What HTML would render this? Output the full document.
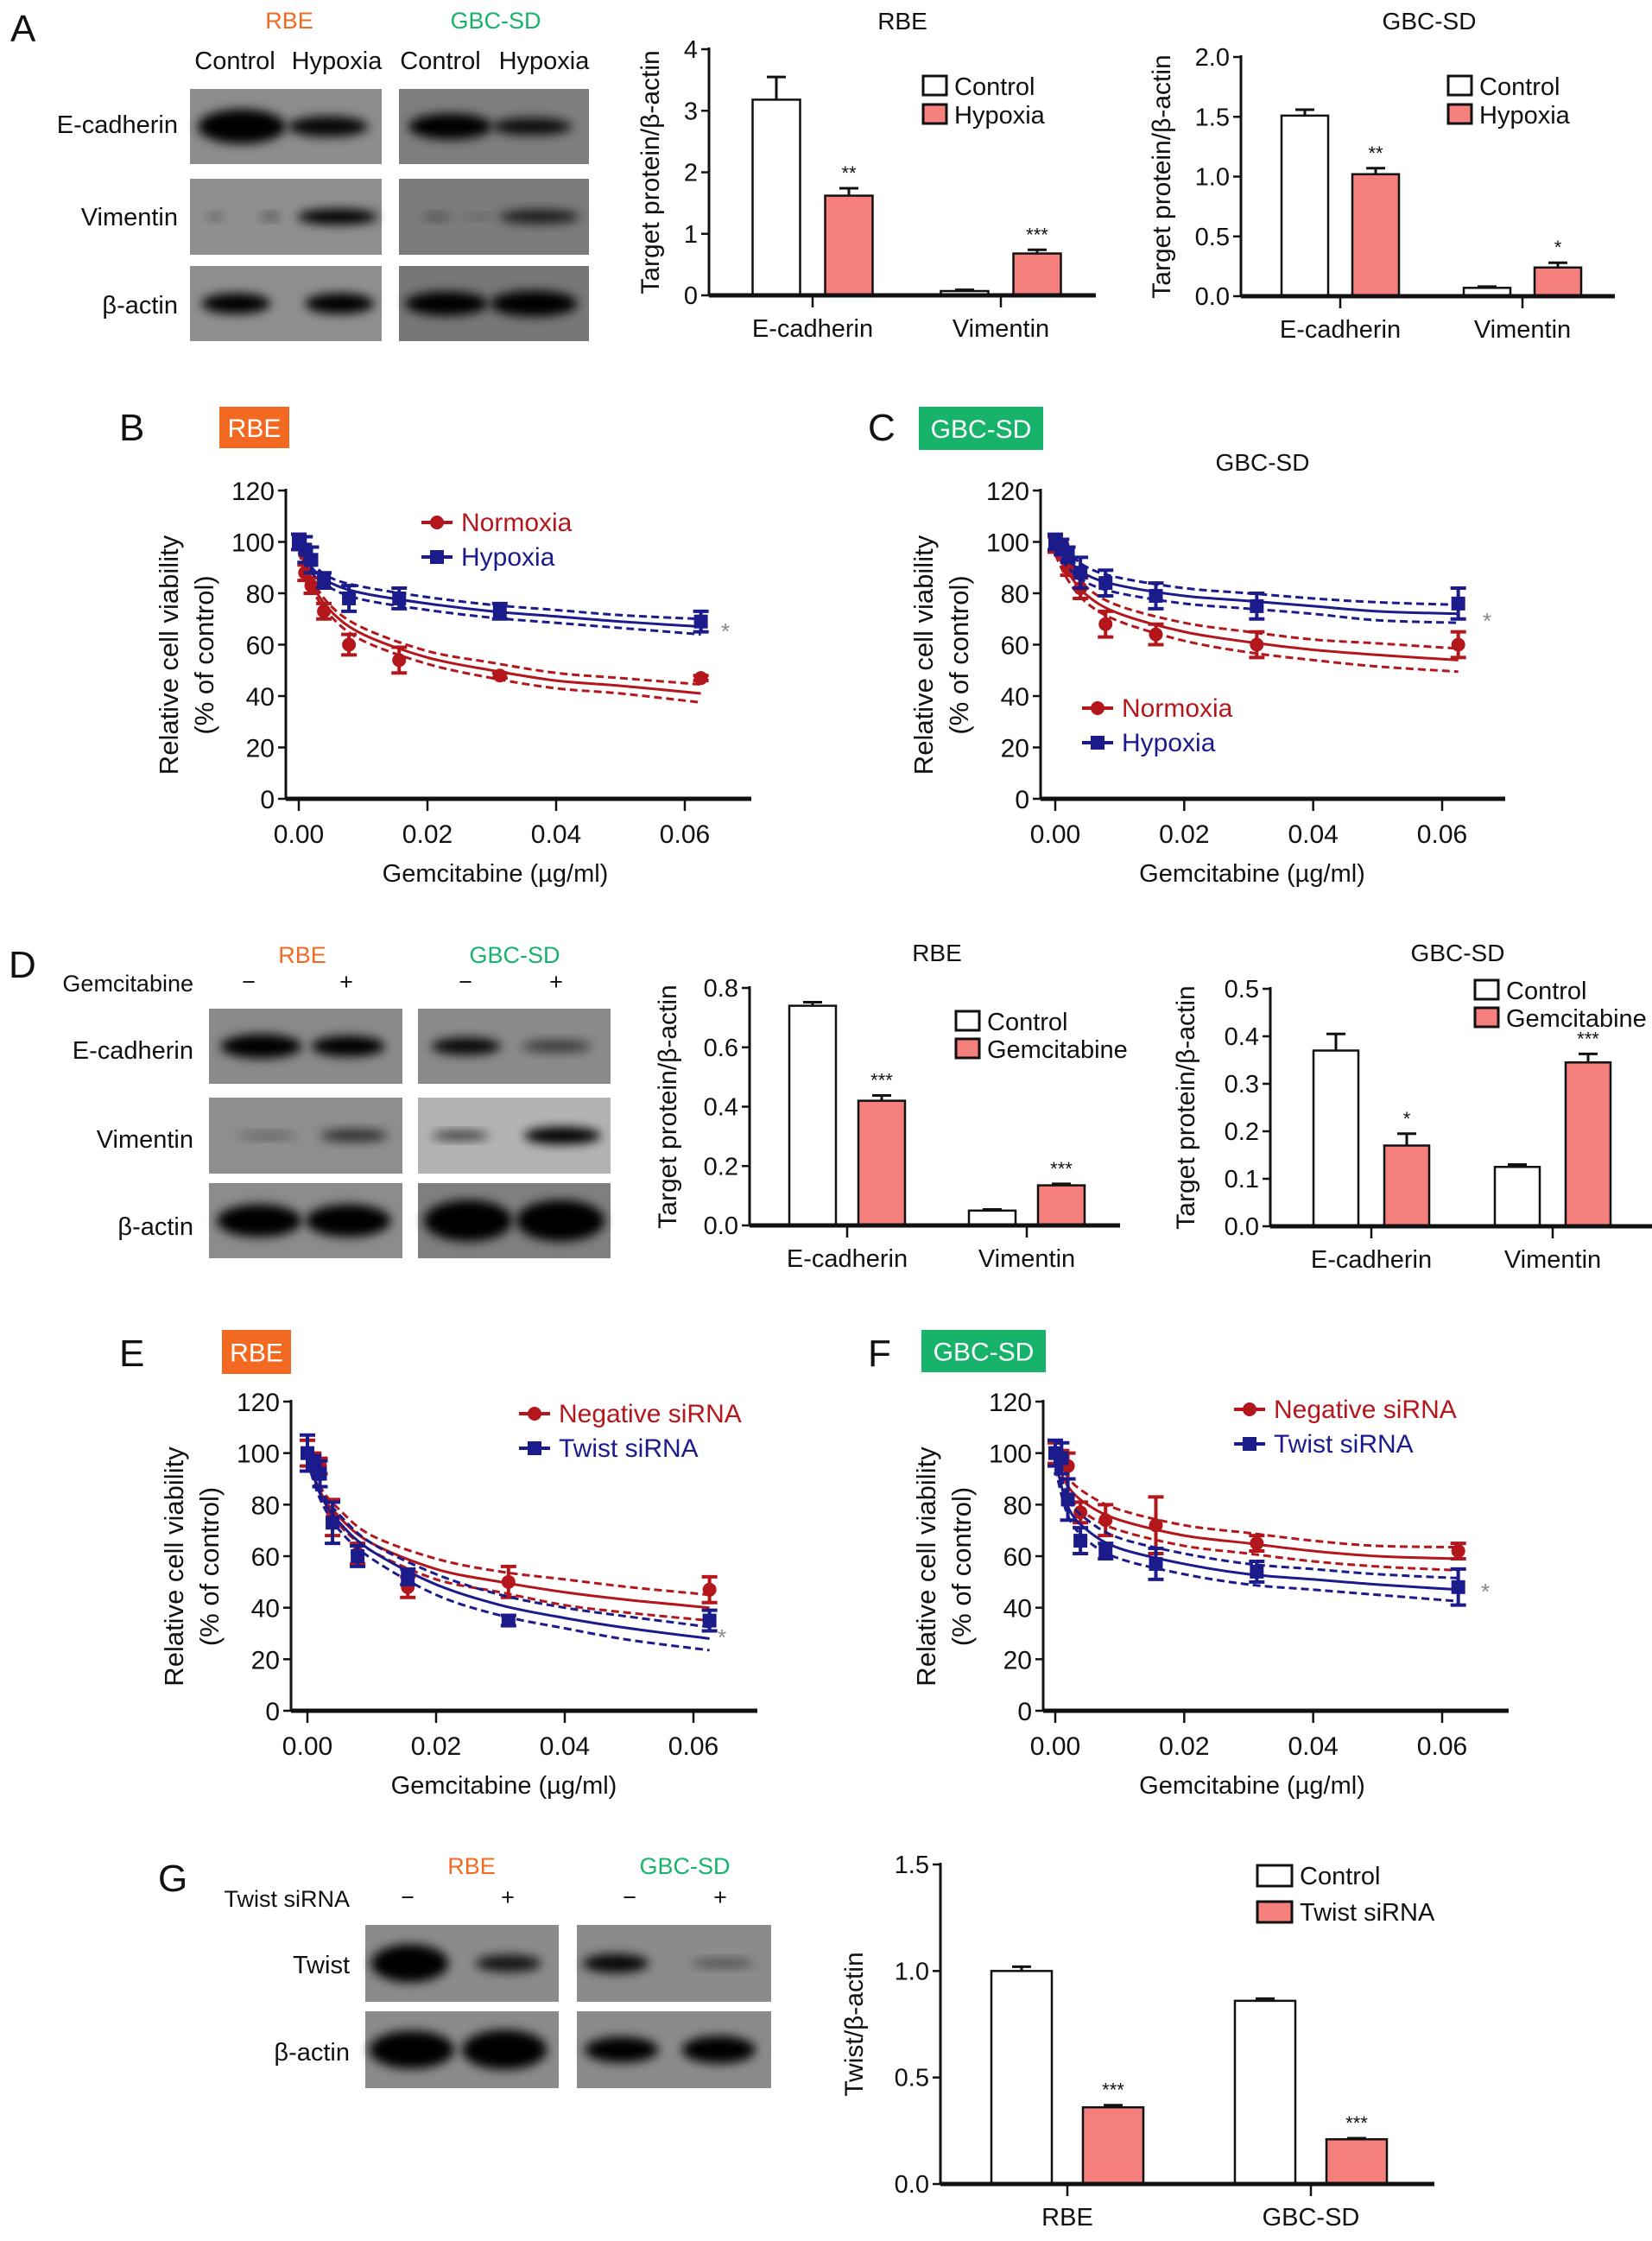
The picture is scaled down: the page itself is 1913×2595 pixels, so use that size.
<!DOCTYPE html>
<html><head><meta charset="utf-8"><style>
html,body{margin:0;padding:0;background:#fff}
svg{display:block}
text{font-family:"Liberation Sans",Arial,sans-serif}
</style></head><body>
<svg id="fig" width="1913" height="2595" viewBox="0 0 1913 2595" xmlns="http://www.w3.org/2000/svg">
<defs>
<filter id="blur" x="-30%" y="-60%" width="160%" height="220%"><feGaussianBlur stdDeviation="6"/></filter>
</defs>
</svg>
<script>
// ---------- data ----------
const barCats = ['E-cadherin','Vimentin'];
const aRbeCtrl = [3.18, 0.07], aRbeCtrlErr = [0.37, 0.02];
const aRbeHyp = [1.62, 0.68], aRbeHypErr = [0.12, 0.06];
const aRbeTicks = ['0','1','2','3','4'];
const aGbcCtrl = [1.51, 0.07], aGbcCtrlErr = [0.05, 0.01];
const aGbcHyp = [1.02, 0.24], aGbcHypErr = [0.05, 0.04];
const aGbcTicks = ['0.0','0.5','1.0','1.5','2.0'];
const dRbeCtrl = [0.74, 0.05], dRbeCtrlErr = [0.012, 0.004];
const dRbeGem = [0.42, 0.135], dRbeGemErr = [0.018, 0.005];
const dRbeTicks = ['0.0','0.2','0.4','0.6','0.8'];
const dGbcCtrl = [0.37, 0.125], dGbcCtrlErr = [0.035, 0.005];
const dGbcGem = [0.17, 0.345], dGbcGemErr = [0.025, 0.018];
const dGbcTicks = ['0.0','0.1','0.2','0.3','0.4','0.5'];
const gCats = ['RBE','GBC-SD'];
const gCtrl = [1.0, 0.86], gCtrlErr = [0.02, 0.01];
const gSi = [0.36, 0.21], gSiErr = [0.01, 0.005];
const gTicks = ['0.0','0.5','1.0','1.5'];

const doseX = [0, 0.00098, 0.00195, 0.0039, 0.0078, 0.0156, 0.03125, 0.0625];
const fitX = [0, 0.002, 0.005, 0.01, 0.02, 0.03, 0.04, 0.05, 0.0625];
const xTicks = ['0.00','0.02','0.04','0.06'];
const yTicks = ['0','20','40','60','80','100','120'];

const bNorm = [100, 88, 83, 73, 60, 54, 48, 47], bNormErr = [3, 3, 3, 3, 4, 5, 1, 1];
const bHyp = [100, 97, 93, 85, 78, 78, 73, 69], bHypErr = [3, 5, 5, 3, 5, 4, 3, 4];
const bNormFit = [98, 84, 73, 64, 55, 50, 46, 44, 41], bNormBand = [2, 2, 2, 2.5, 2.5, 3, 3, 3, 3.5];
const bHypFit = [99, 90, 84, 80, 76, 73, 71, 69, 67], bHypBand = [2, 2, 2, 2.5, 2.5, 2.5, 2.5, 2.5, 3];

const cNorm = [99, 97, 90, 82, 68, 64, 60, 60], cNormErr = [3, 2, 3, 4, 5, 4, 5, 5];
const cHyp = [100, 98, 95, 88, 84, 79, 75, 76], cHypErr = [3, 3, 3, 6, 5, 5, 5, 6];
const cNormFit = [97, 88, 79, 72, 65, 61, 58, 56, 54], cNormBand = [2, 3, 3, 3, 3.5, 4, 4, 4.5, 4.5];
const cHypFit = [99, 93, 87, 83, 79, 77, 75, 73, 72], cHypBand = [2, 3, 3, 3, 3, 3, 3, 3.5, 3.5];

const eNeg = [100, 97, 95, 75, 61, 48, 50, 47], eNegErr = [5, 3, 3, 7, 4, 4, 6, 5];
const eTw = [100, 96, 92, 73, 60, 52, 35, 35], eTwErr = [7, 3, 5, 8, 4, 3, 2, 4];
const eNegFit = [99, 85, 75, 65, 55, 50, 46, 43, 40], eNegBand = [2, 2, 3, 3, 4, 4, 5, 5, 5];
const eTwFit = [99, 84, 73, 62, 49, 41, 36, 32, 28], eTwBand = [2, 2, 3, 3, 4, 4, 4, 4.5, 4.5];

const fNeg = [100, 98, 95, 77, 74, 72, 65, 62], fNegErr = [4, 3, 5, 4, 6, 11, 3, 3];
const fTw = [100, 98, 82, 66, 62, 57, 54, 48], fTwErr = [5, 6, 8, 5, 3, 6, 4, 7];
const fNegFit = [98, 87, 80, 74, 68, 65, 62, 60, 59], fNegBand = [3, 3.5, 4, 4, 4, 4, 4, 4, 4.5];
const fTwFit = [97, 79, 70, 63, 57, 53, 51, 49, 47], fTwBand = [3, 3.5, 4, 4, 4, 4, 4, 4, 4.5];

// ---------- helpers ----------
const NS = 'http://www.w3.org/2000/svg';
const svg = document.getElementById('fig');
const RED = '#b3171c', BLUE = '#1b1b8c', PINK = '#f47f7c', ORANGE = '#f26a21', GREEN = '#17b36b';
function el(tag, attrs, parent, txt) {
  const e = document.createElementNS(NS, tag);
  for (const k in attrs) e.setAttribute(k, attrs[k]);
  if (txt !== undefined) e.textContent = txt;
  (parent || svg).appendChild(e);
  return e;
}
function txt(x, y, s, size, anchor, fill, parent, name) {
  const t = el('text', {x: x, y: y, 'font-size': size, 'text-anchor': anchor || 'start', fill: fill || '#111'}, parent, s);
  
  
  return t;
}
function group(name) {
  const g = el('g', {});
  
  
  return g;
}

// ---------- western blots ----------
function blot(name, x, y, w, h, fill, bands, parent) {
  const g = el('g', {}, parent);
  
  
  el('rect', {x: x, y: y, width: w, height: h, fill: fill}, g);
  bands.forEach(b => {
    const e = el('ellipse', {cx: x + b[0] * w, cy: y + h * (b[4] || 0.5), rx: b[1] * w / 2, ry: b[2], fill: '#050505', opacity: b[3], filter: 'url(#blur)'}, g);
    
    
  });
}

// ---------- bar chart ----------
function barChart(o) {
  const g = group(o.name);
  const ys = v => o.y0 - (v / o.vmax) * (o.y0 - o.yTop);
  o.cats.forEach((c, i) => {
    const cx = o.catX[i];
    [[o.s1, o.e1, '#fff', -1], [o.s2, o.e2, PINK, 1]].forEach(([vals, errs, fill, side]) => {
      const bx = cx + side * o.off - o.bw / 2;
      const top = ys(vals[i]);
      const et = ys(vals[i] + errs[i]);
      const eb = el('line', {x1: bx + o.bw / 2, x2: bx + o.bw / 2, y1: top, y2: et, stroke: '#111', 'stroke-width': 3}, g);
      
      
      el('line', {x1: bx + o.bw / 2 - 11, x2: bx + o.bw / 2 + 11, y1: et, y2: et, stroke: '#111', 'stroke-width': 3}, g);
      const r = el('rect', {x: bx, y: top, width: o.bw, height: o.y0 - top, fill: fill, stroke: '#111', 'stroke-width': 2.5}, g);
      
      
      if (side > 0 && o.stars[i]) txt(bx + o.bw / 2, et - 10, o.stars[i], 22, 'middle', '#111', g, 'significance-marker');
    });
    el('line', {x1: cx, x2: cx, y1: o.y0, y2: o.y0 + 14, stroke: '#111', 'stroke-width': 2.5}, g);
    txt(cx, o.y0 + 48, c, 29, 'middle', '#111', g, 'x-tick-label');
  });
  const ya = el('line', {x1: o.ax, x2: o.ax, y1: o.yTop - 2, y2: o.y0, stroke: '#111', 'stroke-width': 3}, g);
   
  const xa = el('line', {x1: o.ax, x2: o.xEnd, y1: o.y0, y2: o.y0, stroke: '#111', 'stroke-width': 5}, g);
   
  o.ticks.forEach((t, i) => {
    const yy = ys(i * o.vmax / (o.ticks.length - 1));
    el('line', {x1: o.ax - 9, x2: o.ax, y1: yy, y2: yy, stroke: '#111', 'stroke-width': 2.5}, g);
    txt(o.ax - 13, yy + 10, t, 29, 'end', '#111', g, 'y-tick-label');
  });
  const yl = txt(0, 0, o.ylabel, 30, 'middle', '#111', g, 'y-axis-title');
  yl.setAttribute('transform', `translate(${o.ax + o.ylOff},${(o.y0 + o.yTop) / 2}) rotate(-90)`);
  if (o.title) txt(o.titleX, o.titleY, o.title, 28, 'middle', '#111', g, 'chart-title');
  [[o.leg1, '#fff'], [o.leg2, PINK]].forEach(([lab, fill], i) => {
    const ly = o.legY + i * o.legDy;
    const r = el('rect', {x: o.legX, y: ly - 12, width: o.legW || 27, height: o.legH || 22, fill: fill, stroke: '#111', 'stroke-width': 3}, g);
    
    
    txt(o.legX + (o.legW || 27) + 9, ly + 10, lab, 29, 'start', '#111', g, 'legend-entry');
  });
}

// ---------- dose-response chart ----------
function catmull(pts) {
  let d = `M${pts[0][0]},${pts[0][1]}`;
  for (let i = 0; i < pts.length - 1; i++) {
    const p0 = pts[Math.max(0, i - 1)], p1 = pts[i], p2 = pts[i + 1], p3 = pts[Math.min(pts.length - 1, i + 2)];
    const c1 = [p1[0] + (p2[0] - p0[0]) / 6, p1[1] + (p2[1] - p0[1]) / 6];
    const c2 = [p2[0] - (p3[0] - p1[0]) / 6, p2[1] - (p3[1] - p1[1]) / 6];
    d += ` C${c1[0]},${c1[1]} ${c2[0]},${c2[1]} ${p2[0]},${p2[1]}`;
  }
  return d;
}
function curveChart(o) {
  const g = group(o.name);
  const xs = v => o.x0 + v / 0.06 * (o.x06 - o.x0);
  const ys = v => o.y0 - v / 120 * (o.y0 - o.y120);
  const ya = el('line', {x1: o.ax, x2: o.ax, y1: o.y120 - 2, y2: o.y0, stroke: '#111', 'stroke-width': 3}, g);
   
  const xa = el('line', {x1: o.ax, x2: o.xEnd, y1: o.y0, y2: o.y0, stroke: '#111', 'stroke-width': 5}, g);
   
  yTicks.forEach((t, i) => {
    const yy = ys(i * 20);
    el('line', {x1: o.ax - 9, x2: o.ax, y1: yy, y2: yy, stroke: '#111', 'stroke-width': 2.5}, g);
    txt(o.ax - 13, yy + 11, t, 30, 'end', '#111', g, 'y-tick-label');
  });
  xTicks.forEach((t, i) => {
    const xx = xs(i * 0.02);
    el('line', {x1: xx, x2: xx, y1: o.y0, y2: o.y0 + 14, stroke: '#111', 'stroke-width': 2.5}, g);
    txt(xx, o.y0 + 51, t, 30, 'middle', '#111', g, 'x-tick-label');
  });
  txt((o.x0 + o.x06) / 2 + 4, o.y0 + 96, 'Gemcitabine (µg/ml)', 29, 'middle', '#111', g, 'x-axis-title');
  const yc = (o.y0 + o.y120) / 2 + 12;
  const l1 = txt(0, 0, 'Relative cell viability', 31, 'middle', '#111', g, 'y-axis-title');
  l1.setAttribute('transform', `translate(${o.ax - 125},${yc}) rotate(-90)`);
  const l2 = txt(0, 0, '(% of control)', 31, 'middle', '#111', g, 'y-axis-title');
  l2.setAttribute('transform', `translate(${o.ax - 84},${yc}) rotate(-90)`);
  if (o.title) txt(o.title[0], o.title[1], o.title[2], 28, 'middle', '#111', g, 'chart-title');
  o.series.forEach(s => {
    const sg = el('g', {}, g);
    
    
    const mid = fitX.map((x, i) => [xs(x), ys(s.fit[i])]);
    const up = fitX.map((x, i) => [xs(x), ys(s.fit[i] + s.band[i])]);
    const lo = fitX.map((x, i) => [xs(x), ys(s.fit[i] - s.band[i])]);
    [up, lo].forEach(p => {
      const b = el('path', {d: catmull(p), fill: 'none', stroke: s.color, 'stroke-width': 3, 'stroke-dasharray': '9,5'}, sg);
      
      
    });
    const m = el('path', {d: catmull(mid), fill: 'none', stroke: s.color, 'stroke-width': 3}, sg);
    
    
    doseX.forEach((x, i) => {
      const px = xs(x), py = ys(s.data[i]);
      const t = ys(s.data[i] + s.err[i]), b = ys(s.data[i] - s.err[i]);
      el('line', {x1: px, x2: px, y1: t, y2: b, stroke: s.color, 'stroke-width': 4}, sg);
      el('line', {x1: px - 9, x2: px + 9, y1: t, y2: t, stroke: s.color, 'stroke-width': 4}, sg);
      el('line', {x1: px - 9, x2: px + 9, y1: b, y2: b, stroke: s.color, 'stroke-width': 4}, sg);
      let mk;
      if (s.marker === 'circle') mk = el('circle', {cx: px, cy: py, r: 8, fill: s.color}, sg);
      else mk = el('rect', {x: px - 8, y: py - 8, width: 16, height: 16, fill: s.color}, sg);
      
      
    });
  });
  o.series.forEach((s, i) => {
    const ly = o.legY + i * o.legDy;
    const lg = el('g', {}, g);
    
    
    el('line', {x1: o.legX - 18, x2: o.legX + 18, y1: ly, y2: ly, stroke: s.color, 'stroke-width': 4}, lg);
    if (s.marker === 'circle') el('circle', {cx: o.legX, cy: ly, r: 8, fill: s.color}, lg);
    else el('rect', {x: o.legX - 8, y: ly - 8, width: 16, height: 16, fill: s.color}, lg);
    txt(o.legX + 28, ly + 10, s.label, 30, 'start', s.color, lg, 'legend-label');
  });
  txt(o.star[0], o.star[1], '*', 26, 'middle', '#888', g, 'significance-marker');
}

function letter(s, x, y) { txt(x, y, s, 44, 'start', '#111', null, 'panel-letter-' + s.toLowerCase()); }
function badge(s, x, y, w, h, color) {
  const g = group('cell-line-badge-' + s.toLowerCase());
  el('rect', {x: x, y: y, width: w, height: h, fill: color}, g);
  txt(x + w / 2, y + h / 2 + 11, s, 30, 'middle', '#fff', g, 'badge-text');
}

// ===== Panel A =====
letter('A', 12, 48);
txt(335, 33, 'RBE', 27, 'middle', ORANGE, null, 'cell-line-label');
txt(574, 33, 'GBC-SD', 27, 'middle', GREEN, null, 'cell-line-label');
[['Control', 272], ['Hypoxia', 390], ['Control', 510], ['Hypoxia', 630]].forEach(a => txt(a[1], 80, a[0], 29, 'middle', '#111', null, 'lane-label'));
[['E-cadherin', 154], ['Vimentin', 261], ['β-actin', 363]].forEach(a => txt(206, a[1], a[0], 29, 'end', '#111', null, 'row-label'));
const gA = group('blot-panel-a');
blot('blot-rbe-ecadherin', 220, 103, 222, 87, '#8d8d8d', [[0.27, 0.46, 20, 1], [0.72, 0.42, 12, 0.95]], gA);
blot('blot-rbe-vimentin', 220, 207, 222, 88, '#8f8f8f', [[0.13, 0.08, 4, 0.4], [0.42, 0.1, 4, 0.5], [0.77, 0.42, 9, 1]], gA);
blot('blot-rbe-actin', 220, 308, 222, 87, '#8f8f8f', [[0.24, 0.36, 12, 1], [0.78, 0.36, 12, 1]], gA);
blot('blot-gbc-ecadherin', 462, 103, 220, 87, '#7e7e7e', [[0.27, 0.44, 15, 1], [0.7, 0.42, 10, 0.9]], gA);
blot('blot-gbc-vimentin', 462, 207, 220, 88, '#7b7b7b', [[0.2, 0.14, 4, 0.4], [0.42, 0.18, 3, 0.2], [0.74, 0.42, 8, 0.8]], gA);
blot('blot-gbc-actin', 462, 308, 220, 87, '#777', [[0.25, 0.44, 14, 1], [0.71, 0.46, 15, 1]], gA);

barChart({name: 'chart-a-rbe', cats: barCats, catX: [941, 1159], s1: aRbeCtrl, e1: aRbeCtrlErr, s2: aRbeHyp, e2: aRbeHypErr,
  stars: ['**', '***'], ax: 821, y0: 342, yTop: 57, vmax: 4, ticks: aRbeTicks, xEnd: 1269, off: 42, bw: 55,
  ylabel: 'Target protein/β-actin', ylOff: -58, title: 'RBE', titleX: 1045, titleY: 34,
  leg1: 'Control', leg2: 'Hypoxia', legX: 1069, legY: 100, legDy: 33});
barChart({name: 'chart-a-gbcsd', cats: barCats, catX: [1552, 1763], s1: aGbcCtrl, e1: aGbcCtrlErr, s2: aGbcHyp, e2: aGbcHypErr,
  stars: ['**', '*'], ax: 1437, y0: 343, yTop: 66, vmax: 2, ticks: aGbcTicks, xEnd: 1870, off: 41, bw: 54,
  ylabel: 'Target protein/β-actin', ylOff: -82, title: 'GBC-SD', titleX: 1655, titleY: 34,
  leg1: 'Control', leg2: 'Hypoxia', legX: 1677, legY: 100, legDy: 33});

// ===== Panels B, C =====
letter('B', 138, 510);
badge('RBE', 254, 471, 81, 48, ORANGE);
letter('C', 1005, 510);
badge('GBC-SD', 1064, 471, 144, 50, GREEN);
curveChart({name: 'chart-b-rbe', ax: 331, x0: 346, x06: 793, xEnd: 870, y0: 925, y120: 568,
  series: [{name: 'series-normoxia', label: 'Normoxia', color: RED, marker: 'circle', data: bNorm, err: bNormErr, fit: bNormFit, band: bNormBand},
           {name: 'series-hypoxia', label: 'Hypoxia', color: BLUE, marker: 'square', data: bHyp, err: bHypErr, fit: bHypFit, band: bHypBand}],
  legX: 506, legY: 605, legDy: 40, star: [840, 740]});
curveChart({name: 'chart-c-gbcsd', ax: 1205, x0: 1222, x06: 1670, xEnd: 1743, y0: 925, y120: 568,
  series: [{name: 'series-normoxia', label: 'Normoxia', color: RED, marker: 'circle', data: cNorm, err: cNormErr, fit: cNormFit, band: cNormBand},
           {name: 'series-hypoxia', label: 'Hypoxia', color: BLUE, marker: 'square', data: cHyp, err: cHypErr, fit: cHypFit, band: cHypBand}],
  legX: 1271, legY: 820, legDy: 40, star: [1722, 728], title: [1462, 545, 'GBC-SD']});

// ===== Panel D =====
letter('D', 10, 1132);
txt(350, 1115, 'RBE', 27, 'middle', ORANGE, null, 'cell-line-label');
txt(596, 1115, 'GBC-SD', 27, 'middle', GREEN, null, 'cell-line-label');
txt(224, 1148, 'Gemcitabine', 27, 'end', '#111', null, 'treatment-label');
[['−', 288], ['+', 401], ['−', 539], ['+', 644]].forEach(a => txt(a[1], 1146, a[0], 27, 'middle', '#111', null, 'lane-sign'));
[['E-cadherin', 1226], ['Vimentin', 1329], ['β-actin', 1430]].forEach(a => txt(224, a[1], a[0], 29, 'end', '#111', null, 'row-label'));
const gD = group('blot-panel-d');
blot('blot-rbe-ecadherin', 242, 1168, 224, 87, '#8a8a8a', [[0.27, 0.42, 14, 1], [0.72, 0.38, 12, 1]], gD);
blot('blot-rbe-vimentin', 242, 1271, 224, 88, '#8e8e8e', [[0.3, 0.3, 4, 0.35], [0.75, 0.35, 7, 0.7]], gD);
blot('blot-rbe-actin', 242, 1370, 224, 87, '#8c8c8c', [[0.26, 0.44, 19, 1], [0.72, 0.44, 19, 1]], gD);
blot('blot-gbc-ecadherin', 484, 1168, 223, 87, '#8a8a8a', [[0.25, 0.36, 10, 0.95], [0.72, 0.36, 7, 0.6]], gD);
blot('blot-gbc-vimentin', 484, 1271, 223, 88, '#b3b3b3', [[0.22, 0.3, 5, 0.75], [0.75, 0.4, 10, 1]], gD);
blot('blot-gbc-actin', 484, 1370, 223, 87, '#7f7f7f', [[0.26, 0.46, 24, 1], [0.74, 0.46, 24, 1]], gD);

barChart({name: 'chart-d-rbe', cats: barCats, catX: [981, 1189], s1: dRbeCtrl, e1: dRbeCtrlErr, s2: dRbeGem, e2: dRbeGemErr,
  stars: ['***', '***'], ax: 868, y0: 1419, yTop: 1144, vmax: 0.8, ticks: dRbeTicks, xEnd: 1297, off: 40, bw: 54,
  ylabel: 'Target protein/β-actin', ylOff: -85, title: 'RBE', titleX: 1085, titleY: 1113,
  leg1: 'Control', leg2: 'Gemcitabine', legX: 1107, legY: 1183, legDy: 32});
barChart({name: 'chart-d-gbcsd', cats: barCats, catX: [1588, 1798], s1: dGbcCtrl, e1: dGbcCtrlErr, s2: dGbcGem, e2: dGbcGemErr,
  stars: ['*', '***'], ax: 1471, y0: 1420, yTop: 1145, vmax: 0.5, ticks: dGbcTicks, xEnd: 1913, off: 41, bw: 52,
  ylabel: 'Target protein/β-actin', ylOff: -88, title: 'GBC-SD', titleX: 1688, titleY: 1113,
  leg1: 'Control', leg2: 'Gemcitabine', legX: 1708, legY: 1147, legDy: 32});

// ===== Panels E, F =====
letter('E', 138, 1582);
badge('RBE', 257, 1540, 80, 51, ORANGE);
letter('F', 1005, 1582);
badge('GBC-SD', 1067, 1540, 144, 49, GREEN);
curveChart({name: 'chart-e-rbe', ax: 337, x0: 356, x06: 803, xEnd: 877, y0: 1981, y120: 1623,
  series: [{name: 'series-negative-sirna', label: 'Negative siRNA', color: RED, marker: 'circle', data: eNeg, err: eNegErr, fit: eNegFit, band: eNegBand},
           {name: 'series-twist-sirna', label: 'Twist siRNA', color: BLUE, marker: 'square', data: eTw, err: eTwErr, fit: eTwFit, band: eTwBand}],
  legX: 619, legY: 1637, legDy: 40, star: [836, 1905]});
curveChart({name: 'chart-f-gbcsd', ax: 1208, x0: 1222, x06: 1670, xEnd: 1747, y0: 1981, y120: 1623,
  series: [{name: 'series-negative-sirna', label: 'Negative siRNA', color: RED, marker: 'circle', data: fNeg, err: fNegErr, fit: fNegFit, band: fNegBand},
           {name: 'series-twist-sirna', label: 'Twist siRNA', color: BLUE, marker: 'square', data: fTw, err: fTwErr, fit: fTwFit, band: fTwBand}],
  legX: 1447, legY: 1632, legDy: 40, star: [1720, 1852]});

// ===== Panel G =====
letter('G', 183, 2190);
txt(546, 2170, 'RBE', 27, 'middle', ORANGE, null, 'cell-line-label');
txt(793, 2170, 'GBC-SD', 27, 'middle', GREEN, null, 'cell-line-label');
txt(405, 2208, 'Twist siRNA', 27, 'end', '#111', null, 'treatment-label');
[['−', 472], ['+', 588], ['−', 729], ['+', 834]].forEach(a => txt(a[1], 2206, a[0], 27, 'middle', '#111', null, 'lane-sign'));
[['Twist', 2285], ['β-actin', 2386]].forEach(a => txt(405, a[1], a[0], 29, 'end', '#111', null, 'row-label'));
const gG = group('blot-panel-g');
blot('blot-rbe-twist', 423, 2229, 224, 89, '#8b8b8b', [[0.23, 0.4, 22, 1], [0.74, 0.34, 10, 0.85]], gG);
blot('blot-rbe-actin', 423, 2329, 224, 89, '#8b8b8b', [[0.24, 0.44, 22, 1], [0.72, 0.44, 23, 1]], gG);
blot('blot-gbc-twist', 668, 2229, 225, 89, '#8b8b8b', [[0.2, 0.34, 11, 0.95], [0.75, 0.32, 5, 0.45]], gG);
blot('blot-gbc-actin', 668, 2329, 225, 89, '#8b8b8b', [[0.23, 0.38, 15, 1], [0.73, 0.38, 16, 1]], gG);

barChart({name: 'chart-g-twist', cats: gCats, catX: [1236, 1518], s1: gCtrl, e1: gCtrlErr, s2: gSi, e2: gSiErr,
  stars: ['***', '***'], ax: 1089, y0: 2529, yTop: 2159, vmax: 1.5, ticks: gTicks, xEnd: 1661, off: 53, bw: 70,
  ylabel: 'Twist/β-actin', ylOff: -90,
  leg1: 'Control', leg2: 'Twist siRNA', legX: 1456, legY: 2172, legDy: 42, legW: 40, legH: 24});
</script>
</body></html>
